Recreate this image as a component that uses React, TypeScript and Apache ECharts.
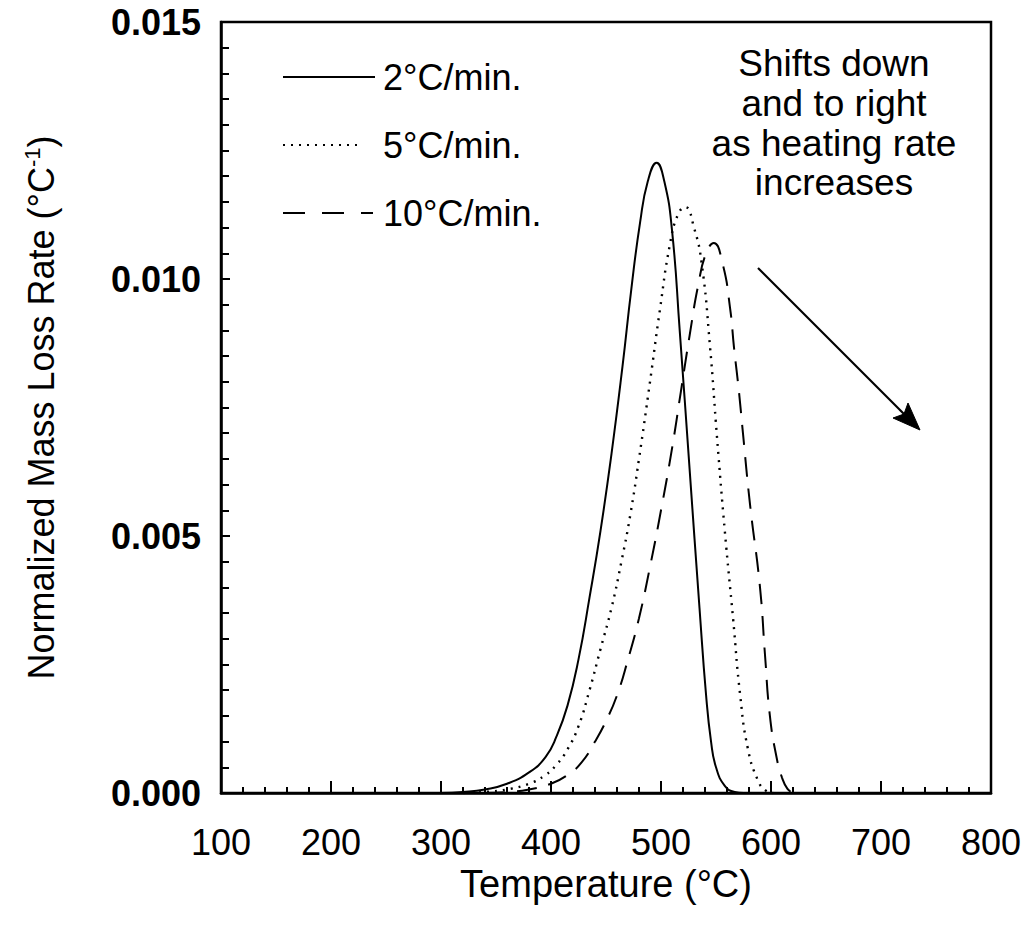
import React, { useEffect, useRef } from 'react';
import * as echarts from 'echarts';

// 2 °C/min (solid)
const temps2C = [300, 320, 340, 360, 380, 395, 405, 415, 425, 435, 445, 455, 465, 473, 481, 488, 496, 503, 510, 517, 526, 535, 541, 545.5, 550, 558, 567, 575];
const rate2C = [0, 0.00002, 0.00007, 0.00018, 0.0004, 0.0007, 0.0011, 0.0017, 0.0026, 0.0038, 0.0051, 0.0066, 0.0083, 0.0098, 0.0111, 0.0119, 0.01226, 0.0119, 0.01095, 0.009, 0.0063, 0.0036, 0.0019, 0.001, 0.0005, 0.00014, 0.00002, 0];

// 5 °C/min (dotted)
const temps5C = [320, 340, 360, 380, 395, 405, 415, 425, 435, 445, 455, 464, 472, 480, 490, 499, 508, 515.5, 522, 530, 537, 544.5, 551, 558, 565.5, 572, 579, 588, 595, 602];
const rate5C = [0, 0.00002, 0.00007, 0.00018, 0.00035, 0.00055, 0.00085, 0.0013, 0.002, 0.0028, 0.0036, 0.0045, 0.0054, 0.0065, 0.008, 0.0094, 0.01066, 0.01126, 0.0114, 0.011, 0.0103, 0.0087, 0.0069, 0.0051, 0.0034, 0.0019, 0.00086, 0.00025, 0.00005, 0];

// 10 °C/min (dashed)
const temps10C = [340, 360, 380, 400, 415, 428, 440, 450, 460, 470, 480, 490, 500, 510, 518, 526, 534, 541, 548, 556, 562.7, 566.4, 571, 574.5, 581, 590, 594.5, 599, 605, 610, 615, 620];
const rate10C = [0, 0.00002, 0.00007, 0.00018, 0.00035, 0.0006, 0.001, 0.0014, 0.0019, 0.0026, 0.0034, 0.0044, 0.0055, 0.0067, 0.0078, 0.0089, 0.0099, 0.0105, 0.0107, 0.0103, 0.00945, 0.00866, 0.00778, 0.007, 0.0056, 0.004, 0.0027, 0.0015, 0.0007, 0.0003, 0.00008, 0];

const legendLabels = ['2°C/min.', '5°C/min.', '10°C/min.'];
const noteLines = ['Shifts down', 'and to right', 'as heating rate', 'increases'];

const FONT = "'Liberation Sans', Arial, Helvetica, sans-serif";

const pairs = (xs: number[], ys: number[]) => xs.map((x, i) => [x, ys[i]]);

export default function App() {
  const ref = useRef<HTMLDivElement>(null);
  useEffect(() => {
    const chart = echarts.init(ref.current!, null, { renderer: 'svg' });
    const legendY = [77, 145, 213];
    const legendEnd = [375, 363, 373];
    const legendDash: any[] = [null, [2, 6], [22, 17]];
    const graphic: any[] = [];
    legendLabels.forEach((lab, i) => {
      graphic.push({
        type: 'line',
        shape: { x1: 283, y1: legendY[i], x2: legendEnd[i], y2: legendY[i] },
        style: { stroke: '#000', lineWidth: 2, lineDash: legendDash[i] || undefined },
      });
      graphic.push({
        type: 'text',
        x: 383,
        y: legendY[i],
        style: {
          text: lab, fill: '#000', fontSize: 36, fontFamily: FONT,
          textAlign: 'left', align: 'left', textVerticalAlign: 'middle', verticalAlign: 'middle',
        },
      });
    });
    const noteY = [63, 103, 143, 182];
    noteLines.forEach((t, i) => {
      graphic.push({
        type: 'text',
        x: 834,
        y: noteY[i],
        style: {
          text: t, fill: '#000', fontSize: 37, fontFamily: FONT,
          textAlign: 'center', align: 'center', textVerticalAlign: 'middle', verticalAlign: 'middle',
        },
      });
    });
    graphic.push({
      type: 'line',
      shape: { x1: 758, y1: 268, x2: 906, y2: 416 },
      style: { stroke: '#000', lineWidth: 2.2 },
    });
    graphic.push({
      type: 'polygon',
      shape: { points: [[920, 430], [893, 418], [904, 414], [908, 403]] },
      style: { fill: '#000', stroke: '#000', lineWidth: 1 },
    });

    const option: any = {
      animation: false,
      backgroundColor: '#fff',
      grid: { left: 221, top: 22, right: 36, bottom: 134, show: true, borderColor: '#000', borderWidth: 2.5, backgroundColor: 'transparent' },
      xAxis: {
        type: 'value', min: 100, max: 800, interval: 100,
        name: 'Temperature (°C)', nameLocation: 'middle', nameGap: 60,
        nameTextStyle: { fontSize: 38, fontFamily: FONT, color: '#000' },
        axisLine: { show: true, lineStyle: { color: '#000', width: 2.5 } },
        axisTick: { show: true, inside: true, length: 12, lineStyle: { color: '#000', width: 2 } },
        minorTick: { show: true, splitNumber: 5, length: 6, lineStyle: { color: '#000', width: 2 } },
        axisLabel: { fontSize: 36, fontFamily: FONT, color: '#000', margin: 31 },
        splitLine: { show: false },
      },
      yAxis: {
        type: 'value', min: 0, max: 0.015, interval: 0.005,
        name: 'Normalized Mass Loss Rate (°C{sup|-1})', nameLocation: 'middle', nameGap: 160,
        nameTextStyle: {
          fontSize: 36, fontFamily: FONT, color: '#000',
          rich: { sup: { fontSize: 22, fontFamily: FONT, color: '#000', verticalAlign: 'top', lineHeight: 40 } },
        },
        axisLine: { show: true, lineStyle: { color: '#000', width: 2.5 } },
        axisTick: { show: true, inside: true, length: 9, lineStyle: { color: '#000', width: 2 } },
        minorTick: { show: true, splitNumber: 10, length: 8, lineStyle: { color: '#000', width: 2 } },
        axisLabel: { fontSize: 36, fontWeight: 'bold', fontFamily: FONT, color: '#000', margin: 20, formatter: (v: number) => v.toFixed(3) },
        splitLine: { show: false },
      },
      series: [
        { name: legendLabels[0], type: 'line', data: pairs(temps2C, rate2C), showSymbol: false, smooth: 0.5, lineStyle: { color: '#000', width: 2 } },
        { name: legendLabels[1], type: 'line', data: pairs(temps5C, rate5C), showSymbol: false, smooth: 0.5, lineStyle: { color: '#000', width: 2.4, type: [2, 6] } },
        { name: legendLabels[2], type: 'line', data: pairs(temps10C, rate10C), showSymbol: false, smooth: 0.5, lineStyle: { color: '#000', width: 2, type: [20, 12] } },
      ],
      graphic,
    };
    chart.setOption(option);
    return () => chart.dispose();
  }, []);
  return <div ref={ref} style={{ position: 'absolute', left: 0, top: 0, width: 1027, height: 927, background: '#fff' }} />;
}
